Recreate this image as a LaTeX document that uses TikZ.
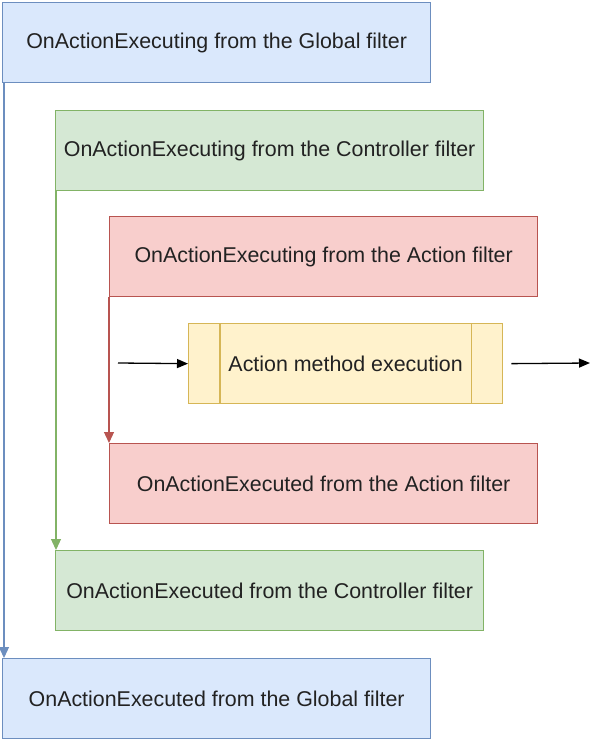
\documentclass[tikz,border=0pt]{standalone}
\usepackage{fontspec}
\setmainfont{Liberation Sans}
\usetikzlibrary{arrows.meta}
\definecolor{bluefill}{HTML}{DAE8FC}
\definecolor{bluedraw}{HTML}{6C8EBF}
\definecolor{greenfill}{HTML}{D5E8D4}
\definecolor{greendraw}{HTML}{82B366}
\definecolor{redfill}{HTML}{F8CECC}
\definecolor{reddraw}{HTML}{B85450}
\definecolor{yellowfill}{HTML}{FFF2CC}
\definecolor{yellowdraw}{HTML}{D6B656}
\definecolor{txt}{HTML}{222222}
\begin{document}
\begin{tikzpicture}[x=1pt,y=-1pt,
  box/.style={draw, line width=1.3pt, minimum width=428pt, minimum height=80pt,
    inner sep=0pt, anchor=north west, text=txt, font=\fontsize{21.4}{24}\selectfont},
  globalbox/.style={box, fill=bluefill, draw=bluedraw},
  ctrlbox/.style={box, fill=greenfill, draw=greendraw},
  actbox/.style={box, fill=redfill, draw=reddraw},
  procbox/.style={box, fill=yellowfill, draw=yellowdraw, minimum width=314pt},
  flow/.style={line width=1.3pt, -{Triangle[length=11pt,width=10pt]}},
  plain/.style={line width=1.3pt, draw=black, -{Triangle[length=11pt,width=9pt]}}
]
\useasboundingbox (0,0) rectangle (590,743);

% outer pairs of filters
\node[globalbox] (gexec) at (2,2) {OnActionExecuting from the Global filter};
\node[ctrlbox]   (cexec) at (55,110) {OnActionExecuting from the Controller filter};
\node[actbox]    (aexec) at (109,216) {OnActionExecuting from the Action filter};

% the action itself
\node[procbox] (method) at (188,323) {Action method execution};
\draw[yellowdraw, line width=1.3pt] ([xshift=32pt]method.north west) -- ([xshift=32pt]method.south west);
\draw[yellowdraw, line width=1.3pt] ([xshift=-32pt]method.north east) -- ([xshift=-32pt]method.south east);

\node[actbox]    (adone) at (109,443) {OnActionExecuted from the Action filter};
\node[ctrlbox]   (cdone) at (55,550) {OnActionExecuted from the Controller filter};
\node[globalbox] (gdone) at (2,658) {OnActionExecuted from the Global filter};

% flow from each executing stage down to its executed stage
\draw[flow, bluedraw]  ([xshift=2pt]gexec.south west) -- ([xshift=2pt]gdone.north west);
\draw[flow, greendraw] ([xshift=1pt]cexec.south west) -- ([xshift=1pt]cdone.north west);
\draw[flow, reddraw]   (aexec.south west) -- (adone.north west);

% entry and exit of the method call
\coordinate (inpt) at (118,363);
\coordinate (outpt) at (590,363);
\draw[plain] (inpt) -- (method.west);
\draw[plain] ([xshift=8pt]method.east) -- (outpt);
\end{tikzpicture}
\end{document}
